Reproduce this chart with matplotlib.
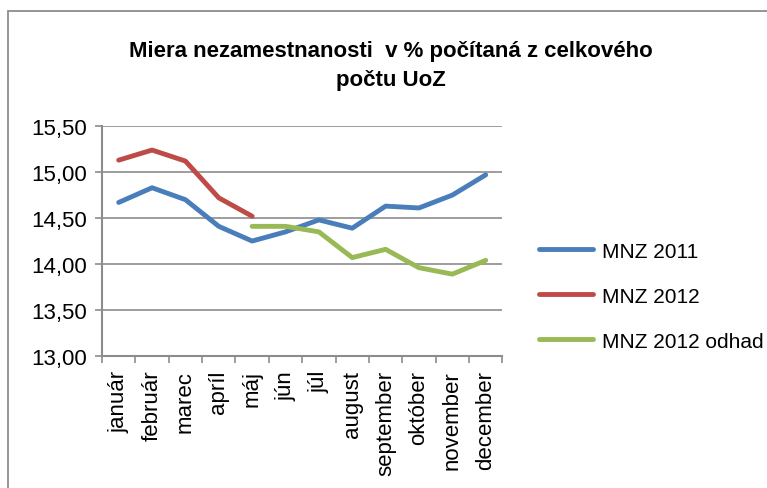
import matplotlib.pyplot as plt
import matplotlib.patches as patches
import numpy as np

plt.rcParams['font.family'] = ['Liberation Sans', 'DejaVu Sans']

months = ['január', 'február', 'marec', 'apríl', 'máj', 'jún', 'júl',
          'august', 'september', 'október', 'november', 'december']
mnz_2011 = [14.67, 14.83, 14.70, 14.41, 14.25, 14.35, 14.48, 14.39, 14.63, 14.61, 14.75, 14.97]
mnz_2012 = [15.13, 15.24, 15.12, 14.72, 14.52]
mnz_2012_odhad = [14.41, 14.41, 14.35, 14.07, 14.16, 13.96, 13.89, 14.04]
y_ticks = [13.0, 13.5, 14.0, 14.5, 15.0, 15.5]

fig = plt.figure(figsize=(7.67, 4.89), dpi=100)
ax = fig.add_axes([0.133, 0.27, 0.522, 0.47])

# outer chart frame (bottom edge is cut off in the reference)
fig.patches.append(patches.Rectangle((8/767, -0.05), 1.0, 1.05 - 12/489, transform=fig.transFigure,
                                     fill=False, edgecolor='#8c8c8c', linewidth=1.3))

x = np.arange(len(months))
ax.plot(x, mnz_2011, color='#4a7ebb', lw=3.5, solid_capstyle='round', label='MNZ 2011')
ax.plot(x[:len(mnz_2012)], mnz_2012, color='#be4b48', lw=3.5, solid_capstyle='round', label='MNZ 2012')
ax.plot(x[4:4 + len(mnz_2012_odhad)], mnz_2012_odhad, color='#98b954', lw=3.5,
        solid_capstyle='round', label='MNZ 2012 odhad')

ax.set_xlim(-0.5, 11.5)
ax.set_ylim(13.0, 15.5)
ax.set_yticks(y_ticks)
ax.set_yticklabels([f'{v:.2f}'.replace('.', ',') for v in y_ticks], fontsize=16)
ax.set_xticks(x)
ax.set_xticklabels(months, rotation=90, fontsize=16)
ax.set_xticks(np.arange(-0.5, 12, 1), minor=True)
ax.tick_params(axis='x', which='major', length=0, pad=10)
ax.tick_params(axis='x', which='minor', length=5, color='#8c8c8c', width=1.2)
ax.tick_params(axis='y', length=5, color='#8c8c8c', width=1.2, pad=6)

ax.grid(axis='y', color='#8c8c8c', lw=1.2)
ax.set_axisbelow(True)
for s in ['top', 'right']:
    ax.spines[s].set_visible(False)
for s in ['left', 'bottom']:
    ax.spines[s].set_color('#8c8c8c')
    ax.spines[s].set_linewidth(1.5)

fig.text(0.51, 0.865, 'Miera nezamestnanosti  v % počítaná z celkového\npočtu UoZ',
         ha='center', va='center', fontsize=16, fontweight='bold', linespacing=1.45)

ax.legend(loc='center left', bbox_to_anchor=(1.045, 0.26), frameon=False, fontsize=15,
          handlelength=2.6, handletextpad=0.4, labelspacing=1.25)

fig.savefig('out.png', dpi=100)
